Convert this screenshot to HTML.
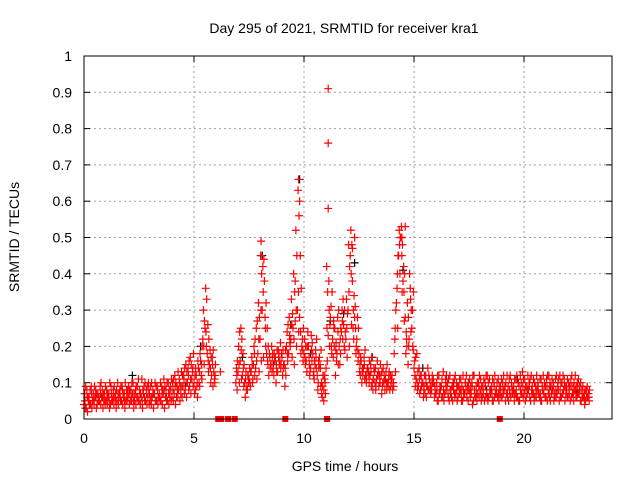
<!DOCTYPE html>
<html><head><meta charset="utf-8"><style>
body{margin:0;background:#fff}
svg{display:block;font-family:"Liberation Sans",sans-serif}
</style></head><body>
<svg id="chart" width="640" height="480">
<text x="344" y="33" font-size="14" text-anchor="middle" fill="#000">Day 295 of 2021, SRMTID for receiver kra1</text>
<text x="345" y="471" font-size="14" text-anchor="middle">GPS time / hours</text>
<text transform="translate(19,237) rotate(-90)" font-size="14" text-anchor="middle">SRMTID / TECUs</text>
<g id="grid"></g>
<g id="ticks"></g>
<g id="black"></g>
<g id="red"></g>
<rect x="84" y="56" width="528" height="363" fill="none" stroke="#000" stroke-width="1"/>
</svg>
<script>
const xTicks=[0,5,10,15,20];
const yTicks=[0,0.1,0.2,0.3,0.4,0.5,0.6,0.7,0.8,0.9,1];
const yTickLabels=["0","0.1","0.2","0.3","0.4","0.5","0.6","0.7","0.8","0.9","1"];
const gridStep=0.1;
const seriesA=[0.04,0.03,0.05,0.04,0.05,0.06,0.04,0.05,0.06,0.05,
0.05,0.06,0.04,0.05,0.06,0.05,0.07,0.05,0.06,0.05,
0.06,0.05,0.07,0.05,0.06,0.05,0.06,0.07,0.05,0.06,
0.05,0.06,0.07,0.05,0.06,0.05,0.07,0.06,0.05,0.06,
0.06,0.07,0.06,0.08,0.07,0.09,0.08,0.10,0.09,0.11,
0.10,0.12,0.14,0.16,0.22,0.25,0.18,0.15,0.12,0.13,
null,null,0.13,null,null,null,null,null,null,0.10,
0.13,0.16,0.12,0.10,0.09,0.11,0.13,0.15,0.14,0.18,
0.22,0.30,0.38,0.18,0.12,0.15,0.14,0.17,0.13,0.16,
0.17,0.15,0.20,0.18,0.22,0.25,0.27,0.30,0.28,0.20,
0.18,0.16,0.20,0.14,0.18,0.15,0.12,0.17,0.10,0.08,
0.14,0.23,0.28,0.22,0.25,0.18,0.20,0.24,0.26,0.22,
0.30,0.45,0.38,0.28,0.22,0.18,0.16,0.14,0.12,0.14,
0.12,0.10,0.13,0.11,0.09,0.12,0.14,0.11,0.10,0.08,
0.12,0.18,0.32,0.45,0.50,0.38,0.28,0.32,0.40,0.25,
0.14,0.11,0.09,0.08,0.10,0.07,0.09,0.11,0.08,0.10,
0.07,0.05,0.08,0.06,0.07,0.09,0.05,0.06,0.08,0.07,
0.06,0.08,0.05,0.07,0.06,0.08,0.07,0.05,0.06,0.07,
0.08,0.06,0.05,0.07,0.06,0.08,0.05,0.07,0.06,0.07,
0.06,0.08,0.07,0.05,0.06,0.08,0.07,0.06,0.05,0.07,
0.07,0.06,0.08,0.05,0.07,0.06,0.08,0.06,0.05,0.07,
0.06,0.07,0.05,0.08,0.06,0.07,0.05,0.06,0.08,0.07,
0.06,0.05,0.07,0.08,0.06,0.07,0.05,0.06,0.05,0.06];
const seriesB=[0.07,0.08,0.06,0.09,0.07,0.08,0.07,0.09,0.08,0.07,
0.08,0.07,0.09,0.08,0.07,0.10,0.08,0.09,0.07,0.08,
0.09,0.08,0.10,0.07,0.09,0.08,0.11,0.09,0.08,0.10,
0.09,0.08,0.10,0.09,0.07,0.09,0.11,0.08,0.10,0.09,
0.10,0.12,0.09,0.11,0.13,0.12,0.15,0.14,0.17,0.13,
0.07,0.09,0.10,0.12,0.30,0.36,0.26,0.19,0.17,0.11,
null,null,null,null,null,null,null,null,null,0.14,
0.20,0.25,0.18,0.06,0.08,0.14,0.17,0.20,0.25,0.32,
0.45,0.42,0.28,0.25,0.18,0.20,0.12,0.10,0.19,0.21,
0.12,0.09,0.24,0.28,0.33,0.40,0.52,0.63,0.45,0.22,
0.22,0.13,0.17,0.23,0.12,0.19,0.08,0.15,0.06,0.11,
0.42,0.38,0.31,0.17,0.12,0.28,0.15,0.30,0.20,0.33,
0.48,0.52,0.25,0.31,0.28,0.13,0.10,0.17,0.10,0.13,
0.15,0.08,0.10,0.16,0.12,0.07,0.10,0.13,0.09,0.12,
0.08,0.22,0.36,0.52,0.53,0.42,0.18,0.15,0.36,0.30,
0.16,0.18,0.14,0.12,0.06,0.12,0.14,0.08,0.12,0.06,
0.10,0.12,0.09,0.13,0.11,0.10,0.12,0.09,0.11,0.10,
0.09,0.11,0.12,0.10,0.09,0.11,0.10,0.12,0.09,0.10,
0.11,0.09,0.10,0.12,0.11,0.09,0.10,0.08,0.11,0.09,
0.10,0.09,0.12,0.11,0.10,0.09,0.11,0.10,0.12,0.13,
0.11,0.09,0.10,0.12,0.11,0.09,0.10,0.11,0.09,0.10,
0.11,0.12,0.09,0.10,0.11,0.09,0.12,0.10,0.11,0.09,
0.10,0.11,0.09,0.12,0.10,0.09,0.08,0.07,0.08,0.07];
const seriesC=[0.03,0.02,0.04,0.03,0.04,0.03,0.05,0.04,0.03,0.04,
0.04,0.03,0.05,0.04,0.03,0.04,0.05,0.04,0.03,0.05,
0.04,0.05,0.03,0.04,0.05,0.04,0.03,0.05,0.04,0.04,
0.04,0.03,0.05,0.04,0.05,0.04,0.03,0.05,0.04,0.05,
0.05,0.04,0.06,0.05,0.06,0.07,0.06,0.08,0.07,0.09,
0.08,0.06,0.09,0.11,0.15,0.20,0.13,0.10,0.09,0.12,
null,null,null,null,null,null,null,null,null,0.08,
0.10,0.11,0.09,0.13,0.12,0.09,0.10,0.12,0.11,0.13,
0.16,0.17,0.20,0.15,0.14,0.17,0.16,0.13,0.18,0.15,
0.14,0.19,0.16,0.21,0.17,0.15,0.20,0.24,0.18,0.16,
0.15,0.20,0.12,0.16,0.11,0.14,0.16,0.09,0.12,0.10,
0.16,0.20,0.18,0.25,0.21,0.15,0.18,0.22,0.19,0.17,
0.20,0.26,0.22,0.18,0.16,0.12,0.14,0.11,0.13,0.10,
0.09,0.11,0.08,0.12,0.10,0.09,0.11,0.08,0.12,0.10,
0.10,0.13,0.25,0.40,0.35,0.27,0.22,0.20,0.24,0.19,
0.09,0.08,0.07,0.10,0.09,0.06,0.08,0.07,0.10,0.08,
0.05,0.07,0.06,0.05,0.08,0.06,0.07,0.05,0.06,0.05,
0.07,0.05,0.06,0.08,0.05,0.06,0.04,0.07,0.05,0.06,
0.05,0.07,0.06,0.05,0.08,0.05,0.06,0.07,0.05,0.06,
0.07,0.05,0.06,0.07,0.08,0.05,0.06,0.05,0.07,0.06,
0.05,0.08,0.06,0.07,0.05,0.06,0.07,0.05,0.08,0.06,
0.05,0.06,0.07,0.05,0.06,0.08,0.06,0.07,0.05,0.06,
0.07,0.06,0.05,0.06,0.07,0.05,0.06,0.04,0.06,0.05];
const seriesD=[0.05,0.06,0.04,0.07,0.05,0.06,0.05,0.07,0.06,0.05,
0.06,0.05,0.07,0.06,0.05,0.07,0.06,0.08,0.05,0.06,
0.07,0.06,0.05,0.08,0.06,0.07,0.05,0.06,0.07,0.08,
0.06,0.07,0.05,0.08,0.06,0.07,0.08,0.06,0.07,0.08,
0.08,0.09,0.08,0.10,0.09,0.11,0.10,0.12,0.11,0.14,
0.12,0.10,0.13,0.15,0.20,0.24,0.16,0.14,0.15,0.10,
null,null,null,null,null,null,null,null,null,0.12,
0.15,0.19,0.14,0.11,0.12,0.10,0.15,0.18,0.16,0.22,
0.30,0.35,0.25,0.16,0.17,0.13,0.18,0.15,0.17,0.14,
0.19,0.14,0.18,0.23,0.26,0.22,0.30,0.35,0.24,0.19,
0.17,0.20,0.15,0.19,0.13,0.17,0.10,0.14,0.09,0.12,
0.25,0.30,0.20,0.27,0.19,0.24,0.22,0.27,0.30,0.25,
0.35,0.40,0.30,0.25,0.19,0.15,0.13,0.15,0.11,0.12,
0.13,0.11,0.14,0.12,0.10,0.13,0.12,0.10,0.11,0.09,
0.10,0.25,0.40,0.48,0.45,0.35,0.24,0.28,0.33,0.20,
0.12,0.10,0.11,0.09,0.08,0.10,0.08,0.09,0.10,0.09,
0.08,0.07,0.09,0.08,0.10,0.07,0.08,0.09,0.07,0.08,
0.09,0.07,0.08,0.10,0.08,0.07,0.09,0.08,0.07,0.09,
0.07,0.08,0.09,0.06,0.08,0.07,0.09,0.08,0.07,0.08,
0.08,0.09,0.07,0.08,0.09,0.07,0.08,0.10,0.08,0.09,
0.08,0.07,0.09,0.08,0.07,0.08,0.09,0.07,0.08,0.09,
0.09,0.08,0.07,0.09,0.08,0.10,0.08,0.07,0.09,0.08,
0.08,0.09,0.07,0.08,0.09,0.08,0.07,0.06,0.07,0.06];
const seriesE=[0.09,0.06,0.08,0.05,0.09,0.07,0.06,0.10,0.07,0.09,
0.07,0.10,0.06,0.09,0.08,0.06,0.09,0.07,0.10,0.08,
0.08,0.10,0.07,0.09,0.11,0.07,0.08,0.10,0.09,0.07,
0.10,0.07,0.09,0.06,0.10,0.08,0.09,0.10,0.08,0.11,
0.11,0.10,0.13,0.09,0.12,0.14,0.13,0.16,0.15,0.18,
0.14,0.16,0.18,0.20,0.27,0.33,0.22,0.17,0.19,0.15,
null,null,null,null,null,null,null,null,null,0.16,
0.24,0.22,0.15,0.08,0.10,0.13,0.11,0.22,0.27,0.28,
0.40,0.44,0.32,0.20,0.15,0.18,0.16,0.19,0.15,0.18,
0.15,0.12,0.26,0.20,0.29,0.35,0.45,0.56,0.36,0.25,
0.20,0.24,0.13,0.21,0.16,0.22,0.14,0.19,0.12,0.07,
0.35,0.26,0.35,0.20,0.16,0.30,0.25,0.33,0.24,0.29,
0.42,0.48,0.34,0.20,0.25,0.17,0.12,0.19,0.14,0.16,
0.17,0.14,0.09,0.13,0.15,0.10,0.08,0.15,0.13,0.11,
0.09,0.30,0.45,0.50,0.48,0.40,0.20,0.22,0.30,0.35,
0.17,0.13,0.12,0.10,0.12,0.09,0.12,0.10,0.11,0.07,
0.12,0.09,0.11,0.07,0.12,0.11,0.08,0.10,0.12,0.09,
0.11,0.09,0.07,0.12,0.10,0.09,0.12,0.06,0.10,0.12,
0.09,0.11,0.12,0.10,0.07,0.11,0.12,0.10,0.09,0.11,
0.12,0.10,0.09,0.12,0.07,0.11,0.12,0.09,0.10,0.11,
0.09,0.12,0.11,0.09,0.10,0.12,0.07,0.11,0.12,0.09,
0.12,0.10,0.11,0.07,0.12,0.11,0.10,0.12,0.09,0.11,
0.09,0.12,0.10,0.09,0.11,0.10,0.09,0.08,0.09,0.08];
const spikeTimes=[11.1,11.1,11.1,9.75,9.8,8.05,12.3,14.6,10.8,10.9,9.6,12.2,14.45];
const spikeValues=[0.91,0.76,0.58,0.66,0.60,0.49,0.50,0.53,0.07,0.05,0.38,0.47,0.50];
const blackTimes=[0.5,2.2,4.6,5.3,7.2,8.1,8.6,9.4,9.8,10.3,11.2,11.8,12.3,13.1,14.5,15.4,16.8,18.3,19.7,21.2,22.4];
const blackValues=[0.06,0.12,0.09,0.20,0.17,0.45,0.15,0.26,0.66,0.18,0.27,0.29,0.43,0.17,0.41,0.14,0.10,0.08,0.11,0.09,0.07];
const zeroTimes=[6.1,6.17,6.24,6.55,6.85,9.15,11.05,18.9];

const X0=84,X1=612,Y0=419,Y1=56,XMAX=24;
const sx=t=>X0+(X1-X0)*t/XMAX;
const sy=v=>Y0-(Y0-Y1)*v;
const NS="http://www.w3.org/2000/svg";
function mk(tag,attrs,parent){const e=document.createElementNS(NS,tag);for(const k in attrs)e.setAttribute(k,attrs[k]);parent.appendChild(e);return e;}
const grid=document.getElementById('grid'),ticks=document.getElementById('ticks');
xTicks.forEach(t=>{
  if(t>0){const g=mk('line',{x1:sx(t),x2:sx(t),y1:Y1,y2:Y0,stroke:'#a0a0a0','stroke-dasharray':'2,3'},grid);
  
  }
  mk('line',{x1:sx(t),x2:sx(t),y1:Y0,y2:Y0-6,stroke:'#000'},ticks);
  mk('line',{x1:sx(t),x2:sx(t),y1:Y1,y2:Y1+6,stroke:'#000'},ticks);
  const l=mk('text',{x:sx(t),y:443,'font-size':14,'text-anchor':'middle'},ticks);l.textContent=t;
  
  
});
yTicks.forEach((v,i)=>{
  if(i>0&&i<yTicks.length-1){const g=mk('line',{x1:X0,x2:X1,y1:sy(v),y2:sy(v),stroke:'#a0a0a0','stroke-dasharray':'2,3'},grid);
  
  }
  mk('line',{x1:X0,x2:X0+6,y1:sy(v),y2:sy(v),stroke:'#000'},ticks);
  mk('line',{x1:X1,x2:X1-6,y1:sy(v),y2:sy(v),stroke:'#000'},ticks);
  const l=mk('text',{x:72,y:sy(v)+5,'font-size':14,'text-anchor':'end'},ticks);l.textContent=yTickLabels[i];
  
  
});
function plus(g,t,v,color,name){
  const x=sx(t),y=sy(v);
  const p=mk('path',{d:`M${x-4},${y}H${x+4}M${x},${y-4}V${y+4}`,stroke:color,'stroke-width':1.2,fill:'none'},g);
  
  
}
const blk=document.getElementById('black'),red=document.getElementById('red');
blackTimes.forEach((t,i)=>plus(blk,t,blackValues[i],'#000','black-point'));
const offsets=[0,0.03,0.06,0.045,0.075];
[seriesA,seriesB,seriesC,seriesD,seriesE].forEach((arr,k)=>arr.forEach((v,i)=>{
  if(v!==null)plus(red,i*gridStep+offsets[k],v,'#ff0000','red-point');
}));
spikeTimes.forEach((t,i)=>plus(red,t,spikeValues[i],'#ff0000','red-spike-point'));
zeroTimes.forEach(t=>{
  const r=mk('rect',{x:sx(t)-3,y:Y0-3,width:6,height:6,fill:'#ff0000'},red);
  
  
});
</script>
</body></html>
